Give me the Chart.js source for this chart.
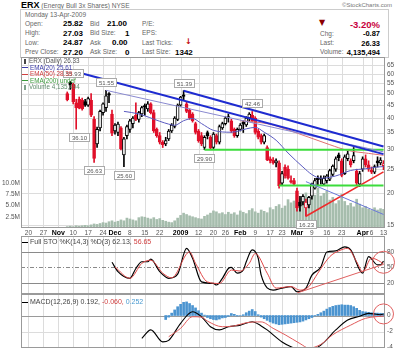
<!DOCTYPE html>
<html>
<head>
<meta charset="utf-8">
<title>ERX daily</title>
<script src="https://cdn.jsdelivr.net/npm/chart.js@4.4.1/dist/chart.umd.min.js"></script>
<style>
  html, body { margin: 0; padding: 0; background: #fff; }
  #wrap { position: relative; width: 400px; height: 348px; overflow: hidden; font-family: "Liberation Sans", Arial, sans-serif; }
  canvas { position: absolute; left: 0; }
  .t { position: absolute; white-space: nowrap; line-height: 1; color: #666; font-size: 6.5px; }
  .v { position: absolute; white-space: nowrap; line-height: 1; color: #000; font-size: 8px; font-weight: bold; }
  .r { text-align: right; }
  .lg { position: absolute; left: 22px; white-space: nowrap; line-height: 1; font-size: 6.3px; }
  .lg i { display: inline-block; width: 6px; height: 1px; vertical-align: middle; margin-right: 2px; }
</style>
</head>
<body>
<div id="wrap">
  <div class="t" style="left:21px;top:1px;font-size:6.5px"><span style="font-size:9px;font-weight:bold;color:#000">ERX</span> (Energy Bull 3x Shares) NYSE</div>
  <div class="t" style="left:342px;top:2px;font-size:6px;color:#777">©StockCharts.com</div>
  <div style="position:absolute;left:20px;top:9px;width:367px;height:47px;border:1px solid #ccc"></div>

  <div class="t" style="left:25px;top:11.5px">Monday 13-Apr-2009</div>
  <div class="t" style="left:25px;top:20.5px">Open:</div><div class="v" style="left:63px;top:20px">25.82</div>
  <div class="t" style="left:25px;top:30px">High:</div><div class="v" style="left:63px;top:29.5px">27.03</div>
  <div class="t" style="left:25px;top:39.5px">Low:</div><div class="v" style="left:63px;top:39px">24.87</div>
  <div class="t" style="left:25px;top:49px">Prev Close:</div><div class="v" style="left:63px;top:48.5px">27.20</div>

  <div class="t" style="left:90px;top:20.5px">Bid</div><div class="v" style="left:107px;top:20px">21.00</div>
  <div class="t" style="left:90px;top:30px">Bid Size:</div><div class="v" style="left:125px;top:29.5px">1</div>
  <div class="t" style="left:90px;top:39.5px">Ask</div><div class="v" style="left:112px;top:39px">0.00</div>
  <div class="t" style="left:90px;top:49px">Ask Size:</div><div class="v" style="left:125px;top:48.5px">0</div>

  <div class="t" style="left:142px;top:20.5px">P/E:</div>
  <div class="t" style="left:142px;top:30px">EPS:</div>
  <div class="t" style="left:142px;top:39.5px">Last Ticks:</div>
  <div class="v" style="left:185px;top:38px;color:#c00000;font-family:'DejaVu Sans';font-size:8px">&#8595;</div>
  <div class="t" style="left:142px;top:49px">Last Size:</div><div class="v" style="left:175px;top:48.5px">1342</div>

  <div class="v" style="left:319px;top:19px;color:#8b0000;font-family:'DejaVu Sans';font-size:8px">&#9660;</div>
  <div class="v r" style="right:20px;top:20px;color:#c8003c;font-size:9.5px">-3.20%</div>
  <div class="t" style="left:320px;top:30.5px">Chg:</div><div class="v r" style="right:20px;top:30px;font-size:7.5px">-0.87</div>
  <div class="t" style="left:320px;top:40px">Last:</div><div class="v r" style="right:20px;top:39.5px;font-size:7.5px">26.33</div>
  <div class="t" style="left:320px;top:49px">Volume:</div><div class="v r" style="right:20px;top:48.5px;font-size:7.5px">4,135,494</div>

  <canvas id="price" width="400" height="181" style="top:57px"></canvas>
  <canvas id="stoch" width="400" height="58" style="top:236px"></canvas>
  <canvas id="macd" width="400" height="54" style="top:294px"></canvas>

  <div class="lg" style="top:58px;color:#555"><i style="width:2px;height:5px;background:#444;margin:0 3px 0 2px"></i>ERX (Daily) 26.33</div>
  <div class="lg" style="top:64.5px;color:#3b3ba8"><i style="background:#3b3ba8"></i>EMA(20) 25.61</div>
  <div class="lg" style="top:71px;color:#d04040"><i style="background:#d04040"></i>EMA(50) 28.39</div>
  <div class="lg" style="top:77.5px;color:#3a9a3a"><i style="background:#3a9a3a"></i>EMA(200) undef</div>
  <div class="lg" style="top:84px;color:#5e8a6a"><i style="width:2px;height:5px;background:#7fa08a;margin:0 3px 0 2px"></i>Volume 4,135,494</div>

  <div class="lg" style="top:238px;font-size:7px;color:#444"><i style="background:#000"></i>Full STO %K(14,3) %D(3) 62.13, <span style="color:#d04040">56.65</span></div>
  <div class="lg" style="top:298px;font-size:7px;color:#444"><i style="background:#000"></i>MACD(12,26,9) 0.192, <span style="color:#d04040">-0.060,</span> <span style="color:#4a9ad0">0.252</span></div>
</div>

<script>
// trading days, Oct 16 2008 .. Apr 13 2009
const months = ['2008-10', '2008-11', '2008-12', '2009-01', '2009-02', '2009-03', '2009-04'];
const monthDays = [
  [16, 17, 20, 21, 22, 23, 24, 27, 28, 29, 30, 31],
  [3, 4, 5, 6, 7, 10, 11, 12, 13, 14, 17, 18, 19, 20, 21, 24, 25, 26, 28],
  [1, 2, 3, 4, 5, 8, 9, 10, 11, 12, 15, 16, 17, 18, 19, 22, 23, 24, 26, 29, 30, 31],
  [2, 5, 6, 7, 8, 9, 12, 13, 14, 15, 16, 20, 21, 22, 23, 26, 27, 28, 29, 30],
  [2, 3, 4, 5, 6, 9, 10, 11, 12, 13, 17, 18, 19, 20, 23, 24, 25, 26, 27],
  [2, 3, 4, 5, 6, 9, 10, 11, 12, 13, 16, 17, 18, 19, 20, 23, 24, 25, 26, 27, 30, 31],
  [1, 2, 3, 6, 7, 8, 9, 13]
];
const labels = [];
months.forEach((m, i) => monthDays[i].forEach(d => labels.push(m + '-' + String(d).padStart(2, '0'))));

const tickDates = ['2008-10-20', '2008-10-27', '2008-11-03', '2008-11-10', '2008-11-17', '2008-11-24',
  '2008-12-01', '2008-12-08', '2008-12-15', '2008-12-22', '2009-01-02', '2009-01-12', '2009-01-20',
  '2009-01-26', '2009-02-02', '2009-02-09', '2009-02-17', '2009-02-23', '2009-03-02', '2009-03-09',
  '2009-03-16', '2009-03-23', '2009-04-01', '2009-04-06', '2009-04-13'];
const tickText = ['20', '27', 'Nov', '10', '17', '24', 'Dec', '8', '15', '22', '2009', '12', '20',
  '26', 'Feb', '9', '17', '23', 'Mar', '9', '16', '23', 'Apr', '6', '13'];

const priceTicks = [15, 20, 25, 30, 35, 40, 45, 50, 55, 60, 65];
const volTicks = [2.5, 5, 7.5, 10];
const volTickText = ['2.5M', '5.0M', '7.5M', '10.0M'];
const stochTicks = [20, 50, 80];
const macdTicks = [0, -2, -4];

// daily bars start at index 15 (Nov 6 2008)
const firstBar = 15;
const open = [50.0, 55.5, 54.5, 46.0, 47.5, 47.0, 46.5, 45.0, 47.0, 39.5,
  31.5, 36.5, 42.0, 44.0, 50.0, 41.5, 35.5, 35.0, 36.5, 28.5,
  34.0, 36.0, 38.0, 41.0, 39.5, 41.5, 44.8, 43.5, 45.5, 42.0,
  36.0, 34.0, 32.0, 31.5, 33.0, 35.5, 37.0, 39.5, 45.0, 49.5,
  45.5, 43.0, 41.5, 38.0, 35.5, 34.0, 30.5, 35.0, 33.5, 30.5,
  34.0, 32.0, 36.5, 38.0, 40.5, 39.0, 36.0, 34.0, 36.0, 38.5,
  37.5, 40.0, 41.0, 40.0, 35.5, 34.0, 32.0, 30.5, 27.5, 27.2,
  26.5, 26.5, 22.0, 25.5, 25.0, 22.5, 22.5, 20.5, 18.5, 18.5,
  17.5, 18.0, 19.5, 21.0, 23.0, 23.0, 21.8, 22.5, 22.8, 23.8,
  25.0, 28.5, 27.0, 24.0, 27.5, 27.0, 27.0, 24.5, 21.8, 25.0,
  27.5, 26.0, 24.8, 24.3, 27.0, 26.5, 25.82];
const high = [50.8, 55.93, 55.0, 47.5, 48.5, 48.0, 47.5, 48.5, 50.0, 40.5,
  36.8, 43.0, 46.0, 51.55, 50.5, 43.0, 38.0, 38.5, 37.0, 33.5,
  37.5, 39.5, 40.5, 46.0, 42.5, 44.5, 45.5, 46.5, 46.0, 43.0,
  36.5, 35.0, 32.5, 33.5, 36.0, 38.0, 40.5, 45.5, 48.8, 51.39,
  46.5, 43.5, 42.0, 38.5, 36.0, 35.0, 34.0, 35.5, 34.0, 35.0,
  34.5, 37.5, 38.5, 40.5, 41.5, 39.5, 36.5, 36.5, 38.0, 39.0,
  40.5, 42.0, 42.46, 40.5, 36.0, 34.5, 34.5, 31.0, 28.0, 27.8,
  27.5, 27.0, 24.5, 26.0, 25.8, 23.5, 23.0, 21.0, 19.5, 19.8,
  19.0, 19.5, 22.0, 23.0, 23.5, 23.5, 23.5, 23.8, 25.0, 26.0,
  28.0, 29.0, 27.5, 28.5, 29.5, 27.5, 30.5, 25.0, 24.5, 28.0,
  28.5, 27.0, 25.5, 26.0, 28.0, 27.8, 27.03];
const low = [46.8, 52.0, 45.5, 36.1, 43.5, 43.0, 44.5, 44.5, 40.5, 26.63,
  30.5, 35.5, 41.0, 42.5, 46.0, 34.0, 34.5, 34.0, 29.8, 25.6,
  33.0, 35.0, 36.5, 39.0, 38.5, 40.5, 41.0, 42.5, 41.5, 35.0,
  33.5, 31.5, 30.5, 31.0, 32.5, 35.0, 36.5, 39.0, 44.5, 47.0,
  42.0, 39.5, 38.5, 34.5, 32.0, 31.0, 29.9, 33.0, 30.0, 30.0,
  31.5, 31.5, 36.0, 37.5, 38.5, 35.0, 33.5, 33.5, 35.5, 35.0,
  37.0, 39.0, 38.5, 34.5, 33.0, 31.5, 31.5, 27.0, 26.5, 26.2,
  25.5, 21.0, 21.5, 23.0, 22.8, 22.0, 21.5, 17.0, 17.0, 18.0,
  16.23, 17.5, 19.0, 20.8, 21.5, 21.8, 21.5, 22.0, 22.5, 23.5,
  24.5, 27.0, 23.3, 23.8, 27.0, 25.5, 26.5, 21.5, 21.3, 24.5,
  25.5, 24.5, 24.0, 24.0, 25.5, 26.0, 24.87];
const close = [47.3, 54.0, 46.5, 44.0, 43.8, 43.5, 45.0, 47.8, 41.0, 27.6,
  36.0, 42.5, 45.5, 49.0, 49.3, 34.8, 37.5, 37.8, 30.2, 33.0,
  37.0, 39.0, 40.0, 39.5, 42.0, 44.0, 44.2, 45.5, 42.0, 35.5,
  34.0, 32.0, 31.3, 32.5, 35.5, 37.5, 40.0, 45.0, 48.5, 48.8,
  42.5, 40.0, 39.0, 35.0, 32.5, 31.5, 33.5, 34.0, 30.3, 34.5,
  32.0, 37.0, 38.0, 40.0, 40.2, 35.5, 34.0, 36.0, 37.5, 37.8,
  40.0, 41.5, 39.0, 35.0, 33.5, 32.0, 34.0, 27.3, 27.0, 26.5,
  27.0, 21.5, 24.0, 23.5, 23.0, 22.2, 21.8, 17.5, 17.8, 19.5,
  18.5, 19.3, 21.8, 22.5, 22.7, 22.8, 23.0, 23.5, 24.7, 25.7,
  27.5, 27.8, 23.6, 28.0, 28.8, 26.0, 28.3, 22.0, 24.0, 27.5,
  26.0, 25.0, 24.3, 25.6, 26.5, 27.2, 26.33];
// volume in millions
const volume = [0.3, 0.4, 0.3, 0.5, 0.4, 0.5, 0.6, 0.5, 0.7, 0.9,
  0.8, 1.0, 1.2, 1.1, 1.4, 1.6, 1.3, 1.5, 1.8, 1.6,
  2.2, 2.0, 1.8, 1.6, 2.3, 2.5, 2.4, 2.2, 2.0, 2.3,
  1.9, 2.1, 1.7, 1.5, 1.3, 1.2, 1.6, 2.2, 2.8, 3.3,
  3.0, 2.7, 2.5, 2.3, 2.1, 2.0, 2.6, 2.9, 3.3, 3.8,
  3.6, 3.2, 3.4, 3.0, 3.5, 3.1, 3.4, 2.9, 3.8, 3.5,
  3.2, 3.9, 4.3, 3.6, 3.3, 4.0, 3.7, 3.4, 4.5, 4.1,
  4.8, 5.2, 4.4, 4.9, 6.3, 5.6, 6.0, 7.2, 6.5, 5.8,
  7.8, 6.9, 8.4, 7.3, 8.9, 7.1, 7.7, 8.2, 6.2, 6.8,
  5.4, 6.1, 7.5, 5.9, 5.0, 5.5, 4.7, 6.4, 5.3, 4.5,
  4.8, 4.2, 3.9, 4.5, 4.0, 4.3, 4.14];

// moving averages (day index, value)
const ema20Idx = [34, 39, 46, 49, 51, 54, 57, 60, 64, 70, 75, 78, 81, 85, 89, 94, 97, 100, 105, 110, 115, 119, 121];
const ema20Val = [42.5, 41.5, 38.8, 37.8, 37.4, 39.0, 39.8, 38.0, 35.7, 35.1, 36.2, 36.7, 35.1, 32.6, 29.0, 25.5, 23.8, 23.0, 23.5, 24.7, 25.1, 25.5, 25.61];
const ema50Idx = [73, 80, 84, 90, 96, 103, 109, 116, 121];
const ema50Val = [39.0, 38.3, 37.5, 35.5, 33.5, 31.3, 29.7, 28.9, 28.39];

// drawn trend lines: [day index, price]
const trendUpper = [[54, 51.39], [121, 30.8]];
const trendLower = [[16, 62.0], [121, 28.7]];
const trendThin = [[28, 51.55], [121, 29.3]];
const supportHi = [[61, 29.9], [121, 29.9]];
const supportLo = [[86, 21.5], [121, 21.5]];
const riseLine = [[95, 16.23], [121, 24.4]];
const fallLine = [[95, 22.3], [121, 16.5]];

// price notes
const noteIdx = [17, 28, 19, 24, 34, 54, 61, 77, 95];
const noteVal = [55.93, 51.55, 36.10, 26.63, 25.60, 51.39, 29.90, 42.46, 16.23];
const noteUp = [true, true, false, false, false, true, false, true, false];

// full stochastics
const kIdx = [30, 32, 36, 38, 40, 42, 43, 46, 49, 52, 55, 57, 60, 64, 65, 67, 69, 70, 72, 74, 75, 77, 79, 80,
  84, 87, 90, 92, 95, 97, 100, 102, 105, 108, 110, 114, 116, 119, 120, 121];
const kVal = [60, 42, 29, 48, 61, 61, 66, 42, 29, 37, 87, 68, 22, 19, 16, 29, 48, 50, 39, 45, 61, 84, 68, 35,
  6, 10, 13, 3, 10, 35, 51, 80, 82, 90, 84, 39, 71, 55, 55, 62.13];
const dIdx = [31, 36, 40, 43, 47, 50, 56, 58, 62, 66, 70, 73, 76, 78, 82, 85, 90, 93, 96, 99, 103, 106, 109,
  112, 114, 117, 120, 121];
const dVal = [51, 29, 58, 64, 39, 30, 80, 58, 22, 19, 45, 43, 58, 77, 39, 10, 13, 6, 13, 39, 71, 82, 87,
  61, 42, 68, 61, 56.65];
const stochTrend = [[92, 0.5], [121, 56]];

// MACD
const macdIdx = [40, 43, 47, 49, 53, 57, 60, 63, 66, 69, 73, 77, 80, 82, 87, 90, 93, 96, 100, 105, 109, 113, 116, 120, 121];
const macdVal = [-2.85, -1.8, -3.3, -3.1, -0.97, 0.48, -0.15, -1.4, -1.8, -1.4, -1.2, -0.77, -1.3, -1.8, -3.3,
  -3.9, -4.3, -4.4, -3.7, -1.8, -0.56, -0.1, 0.27, 0.1, 0.192];
const sigIdx = [49, 53, 57, 60, 62, 67, 71, 75, 80, 84, 88, 93, 96, 100, 104, 110, 115, 121];
const sigVal = [-2.65, -1.6, -0.15, -0.2, -0.7, -1.4, -1.3, -0.9, -0.8, -1.6, -2.4, -3.5, -4.1, -3.6, -2.4,
  -1.2, -0.35, -0.06];
const histFrom = 48;
const hist = [-0.5, -0.2, 0.3, 0.7, 1.1, 1.4, 1.65, 1.7, 1.5, 1.25, 0.95, 0.6, 0.3, 0.05,
  -0.25, -0.4, -0.5, -0.55, -0.45, -0.3, -0.25, -0.1, 0.25, 0.15, -0.05, 0.0, 0.1, 0.35,
  0.55, 0.75, 0.5, 0.1, -0.2, -0.4, -0.6, -0.8, -0.95, -1.05, -1.15, -1.1, -1.05, -1.0,
  -0.95, -0.9, -0.85, -0.8, -0.7, -0.55, -0.4, -0.25, -0.05, 0.15, 0.35, 0.55, 0.8, 1.0,
  1.15, 1.25, 1.3, 1.35, 1.3, 1.3, 1.25, 1.1, 0.9, 0.65, 0.5, 0.45, 0.4, 0.35, 0.3, 0.3,
  0.28, 0.25];

// ---------- helpers ----------
const N = labels.length;
const RED = '#e0102a', BLACK = '#000';
const axisFont = '6.5px "Liberation Sans", Arial, sans-serif';

function full(arr, from) {
  const a = new Array(N).fill(null);
  arr.forEach((v, i) => { a[from + i] = v; });
  return a;
}
function sparse(idx, val) {
  const a = new Array(N).fill(null);
  idx.forEach((k, j) => { a[k] = val[j]; });
  return a;
}
function seg(pts) {
  return sparse(pts.map(p => p[0]), pts.map(p => p[1]));
}

const O = full(open, firstBar), H = full(high, firstBar), L = full(low, firstBar), C = full(close, firstBar);
const colors = C.map((c, i) => {
  if (c == null) return 'rgba(0,0,0,0)';
  const prev = C[i - 1];
  return (prev != null ? c < prev : c < O[i]) ? RED : BLACK;
});
const fills = C.map((c, i) => (c == null ? 'rgba(0,0,0,0)' : (c < O[i] ? colors[i] : '#fff')));

function lineDs(data, color, width, yAxisID, smooth) {
  return {
    type: 'line', data, yAxisID, borderColor: color, borderWidth: width,
    pointRadius: 0, spanGaps: true, fill: false, order: 1,
    cubicInterpolationMode: smooth ? 'monotone' : 'default', tension: 0
  };
}

function vgrid(chart) {
  const { ctx, chartArea: a, scales: { x } } = chart;
  ctx.strokeStyle = '#dcdcdc';
  ctx.lineWidth = 1;
  tickDates.forEach(d => {
    const px = Math.round(x.getPixelForValue(labels.indexOf(d))) + 0.5;
    ctx.beginPath(); ctx.moveTo(px, a.top); ctx.lineTo(px, a.bottom); ctx.stroke();
  });
}
function hline(ctx, a, py, color, dash) {
  ctx.strokeStyle = color;
  ctx.setLineDash(dash || []);
  ctx.beginPath(); ctx.moveTo(a.left, py); ctx.lineTo(a.right, py); ctx.stroke();
  ctx.setLineDash([]);
}
function frame(ctx, a) {
  ctx.strokeStyle = '#9a9a9a';
  ctx.lineWidth = 1;
  ctx.strokeRect(a.left + 0.5, a.top + 0.5, a.right - a.left - 1, a.bottom - a.top - 1);
}
function rightLabels(chart, scale, ticks) {
  const { ctx, chartArea: a } = chart;
  ctx.font = axisFont;
  ctx.fillStyle = '#555';
  ctx.textAlign = 'left';
  ctx.textBaseline = 'middle';
  ticks.forEach(v => ctx.fillText(String(v), a.right + 2, scale.getPixelForValue(v)));
}
function ring(chart, i, v, r) {
  const { ctx, scales: { x, y } } = chart;
  ctx.strokeStyle = '#e06060';
  ctx.lineWidth = 1;
  ctx.beginPath();
  ctx.arc(x.getPixelForValue(i), y.getPixelForValue(v), r, 0, Math.PI * 2);
  ctx.stroke();
}

// ---------- price panel ----------
const pricePanel = {
  id: 'pricePanel',
  beforeDatasetsDraw(chart) {
    const { ctx, chartArea: a, scales: { y } } = chart;
    ctx.save();
    ctx.lineWidth = 1;
    priceTicks.forEach(v => hline(ctx, a, Math.round(y.getPixelForValue(v)) + 0.5, '#dcdcdc'));
    vgrid(chart);
    ctx.restore();
  },
  afterDatasetsDraw(chart) {
    const { ctx, chartArea: a, scales: { x, y, yv } } = chart;
    ctx.save();
    frame(ctx, a);
    rightLabels(chart, y, priceTicks);
    ctx.textAlign = 'right';
    volTicks.forEach((v, i) => ctx.fillText(volTickText[i], a.left - 1, yv.getPixelForValue(v)));
    // date axis
    ctx.textAlign = 'center';
    tickDates.forEach((d, i) => {
      const t = tickText[i];
      const strong = isNaN(+t) || t.length === 4;
      ctx.font = (strong ? 'bold 7px' : '6.5px') + ' "Liberation Sans", Arial, sans-serif';
      ctx.fillStyle = strong ? '#000' : '#555';
      ctx.fillText(t, x.getPixelForValue(labels.indexOf(d)), a.bottom + 5);
    });
    // high / low notes
    ctx.font = '6px "Liberation Sans", Arial, sans-serif';
    noteIdx.forEach((k, j) => {
      const text = noteVal[j].toFixed(2);
      const w = Math.ceil(ctx.measureText(text).width) + 4, h = 8;
      const px = x.getPixelForValue(k), py = y.getPixelForValue(noteVal[j]);
      const top = Math.round(noteUp[j] ? py - 4 - h : py + 4) + 0.5;
      const left = Math.round(px - w / 2) + 0.5;
      ctx.fillStyle = '#fff'; ctx.fillRect(left, top, w, h);
      ctx.strokeStyle = '#aaa'; ctx.strokeRect(left, top, w, h);
      ctx.fillStyle = '#555'; ctx.textAlign = 'center'; ctx.textBaseline = 'middle';
      ctx.fillText(text, left + w / 2, top + h / 2 + 0.5);
    });
    ctx.restore();
  }
};

new Chart(document.getElementById('price'), {
  type: 'bar',
  data: {
    labels,
    datasets: [
      { type: 'bar', label: 'Volume', data: full(volume, firstBar), yAxisID: 'yv', backgroundColor: '#a6bdad',
        barThickness: 2, grouped: false, order: 10 },
      lineDs(seg(trendUpper), '#1e2bd0', 2, 'y'),
      lineDs(seg(trendLower), '#1e2bd0', 2, 'y'),
      lineDs(seg(trendThin), '#8a8ad0', 1, 'y'),
      lineDs(seg(fallLine), '#6a78d8', 1, 'y'),
      lineDs(seg(supportHi), '#3cdc3c', 2, 'y'),
      lineDs(seg(supportLo), '#3cdc3c', 2, 'y'),
      lineDs(seg(riseLine), '#ee2a2a', 1.5, 'y'),
      lineDs(sparse(ema50Idx, ema50Val), '#e07070', 1, 'y', true),
      lineDs(sparse(ema20Idx, ema20Val), '#5a5ac0', 1, 'y', true),
      { type: 'bar', label: 'range', data: L.map((l, i) => (l == null ? null : [l, H[i]])), yAxisID: 'y',
        backgroundColor: colors, barThickness: 1, grouped: false, order: 3 },
      { type: 'bar', label: 'body', data: O.map((o, i) => (o == null ? null : [Math.min(o, C[i]), Math.max(o, C[i])])),
        yAxisID: 'y', backgroundColor: fills, borderColor: colors, borderWidth: 1, borderSkipped: false,
        barThickness: 3, grouped: false, order: 2 }
    ]
  },
  options: {
    responsive: false, animation: false, devicePixelRatio: 1,
    layout: { padding: { left: 21, right: 15, top: 0, bottom: 10 } },
    plugins: { legend: { display: false }, tooltip: { enabled: false } },
    scales: {
      x: { type: 'category', display: false, offset: true },
      y: { type: 'logarithmic', display: false, min: 14.57, max: 70.0 },
      yv: { type: 'linear', display: false, min: 0, max: 38 }
    }
  },
  plugins: [pricePanel]
});

// ---------- stochastics ----------
const stochPanel = {
  id: 'stochPanel',
  beforeDatasetsDraw(chart) {
    const { ctx, chartArea: a, scales: { y } } = chart;
    ctx.save();
    ctx.lineWidth = 1;
    vgrid(chart);
    hline(ctx, a, Math.round(y.getPixelForValue(80)) + 0.5, '#8a8a8a');
    hline(ctx, a, Math.round(y.getPixelForValue(20)) + 0.5, '#8a8a8a');
    hline(ctx, a, Math.round(y.getPixelForValue(50)) + 0.5, '#8a8a8a', [4, 2, 1, 2]);
    ctx.restore();
  },
  afterDatasetsDraw(chart) {
    const { ctx, chartArea: a, scales: { y } } = chart;
    ctx.save();
    frame(ctx, a);
    rightLabels(chart, y, stochTicks);
    ring(chart, 121, 60, 11);
    ctx.restore();
  }
};

new Chart(document.getElementById('stoch'), {
  type: 'line',
  data: {
    labels,
    datasets: [
      lineDs(seg(stochTrend), '#e06060', 1, 'y'),
      lineDs(sparse(dIdx, dVal), '#e04848', 1, 'y', true),
      lineDs(sparse(kIdx, kVal), '#000', 1.2, 'y', true)
    ]
  },
  options: {
    responsive: false, animation: false, devicePixelRatio: 1,
    layout: { padding: { left: 21, right: 15, top: 0, bottom: 0 } },
    plugins: { legend: { display: false }, tooltip: { enabled: false } },
    scales: {
      x: { type: 'category', display: false, offset: true },
      y: { type: 'linear', display: false, min: -1.4, max: 110.9 }
    }
  },
  plugins: [stochPanel]
});

// ---------- MACD ----------
const macdPanel = {
  id: 'macdPanel',
  beforeDatasetsDraw(chart) {
    const { ctx, chartArea: a, scales: { y } } = chart;
    ctx.save();
    ctx.lineWidth = 1;
    vgrid(chart);
    hline(ctx, a, Math.round(y.getPixelForValue(-2)) + 0.5, '#dcdcdc');
    hline(ctx, a, Math.round(y.getPixelForValue(0)) + 0.5, '#9a9a9a');
    ctx.restore();
  },
  afterDatasetsDraw(chart) {
    const { ctx, chartArea: a, scales: { y } } = chart;
    ctx.save();
    frame(ctx, a);
    rightLabels(chart, y, macdTicks);
    ring(chart, 121, 0.2, 10);
    ctx.restore();
  }
};

new Chart(document.getElementById('macd'), {
  type: 'bar',
  data: {
    labels,
    datasets: [
      { type: 'bar', label: 'hist', data: full(hist, histFrom), backgroundColor: '#4b94d0',
        borderColor: '#2f6fae', borderWidth: 0, barThickness: 2, grouped: false, order: 5 },
      lineDs(sparse(sigIdx, sigVal), '#e05a5a', 1, 'y', true),
      lineDs(sparse(macdIdx, macdVal), '#000', 1.1, 'y', true)
    ]
  },
  options: {
    responsive: false, animation: false, devicePixelRatio: 1,
    layout: { padding: { left: 21, right: 15, top: 0, bottom: 0 } },
    plugins: { legend: { display: false }, tooltip: { enabled: false } },
    scales: {
      x: { type: 'category', display: false, offset: true },
      y: { type: 'linear', display: false, min: -4.06, max: 2.69 }
    }
  },
  plugins: [macdPanel]
});
</script>
</body>
</html>
